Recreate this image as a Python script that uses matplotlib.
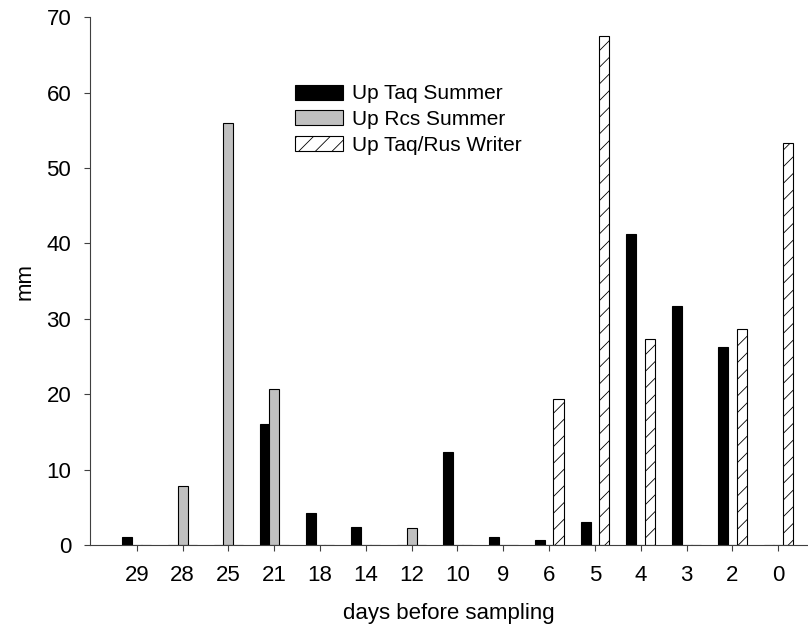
import numpy as np
import matplotlib
matplotlib.use("Agg")
import matplotlib.pyplot as plt

days = ["29", "28", "25", "21", "18", "14", "12", "10", "9", "6", "5", "4", "3", "2", "0"]
taq_summer = [1.0, 0, 0, 16.0, 4.3, 2.4, 0, 12.3, 1.0, 0.6, 3.1, 41.3, 31.7, 26.2, 0]
rcs_summer = [0, 7.8, 56.0, 20.7, 0, 0, 2.3, 0, 0, 0, 0, 0, 0, 0, 0]
taq_rus_winter = [0, 0, 0, 0, 0, 0, 0, 0, 0, 19.3, 67.5, 27.3, 0, 28.7, 53.3]

plt.rcParams['font.family'] = ['Liberation Sans', 'DejaVu Sans']
plt.rcParams['hatch.linewidth'] = 0.6

fig = plt.figure(figsize=(8.08, 6.34), dpi=100)
ax = fig.add_axes([0.1114, 0.1404, 0.8886, 0.8326])

x = np.arange(len(days))
w = 0.22
ax.bar(x - 0.205, taq_summer, w, color="black", edgecolor="black", linewidth=0.8, label="Up Taq Summer")
ax.bar(x, rcs_summer, w, color="#c0c0c0", edgecolor="black", linewidth=0.8, label="Up Rcs Summer")
ax.bar(x + 0.205, taq_rus_winter, w, color="white", edgecolor="black", linewidth=0.8,
       hatch="//", label="Up Taq/Rus Writer")

ax.set_xlim(-1.02, 14.65)
ax.set_ylim(0, 70)
ax.set_yticks(range(0, 71, 10))
ax.set_xticks(x)
ax.set_xticklabels(days)
ax.spines['top'].set_visible(False)
ax.spines['right'].set_visible(False)
ax.spines['left'].set_color("#404040")
ax.spines['bottom'].set_color("#404040")
ax.tick_params(axis='y', direction='out', length=4.5, width=0.8, color="#404040", labelsize=16, pad=9)
ax.tick_params(axis='x', direction='out', length=4.5, width=0.8, color="#404040", labelsize=16, pad=10)

ax.set_ylabel("mm", fontsize=16, labelpad=8)
ax.set_xlabel("days before sampling", fontsize=16, labelpad=12)

ax.legend(loc="upper left", bbox_to_anchor=(0.2595, 0.908), frameon=False, fontsize=15,
          handlelength=2.3, handleheight=0.72, labelspacing=0.32, handletextpad=0.43)

fig.savefig("out.png", dpi=100)
